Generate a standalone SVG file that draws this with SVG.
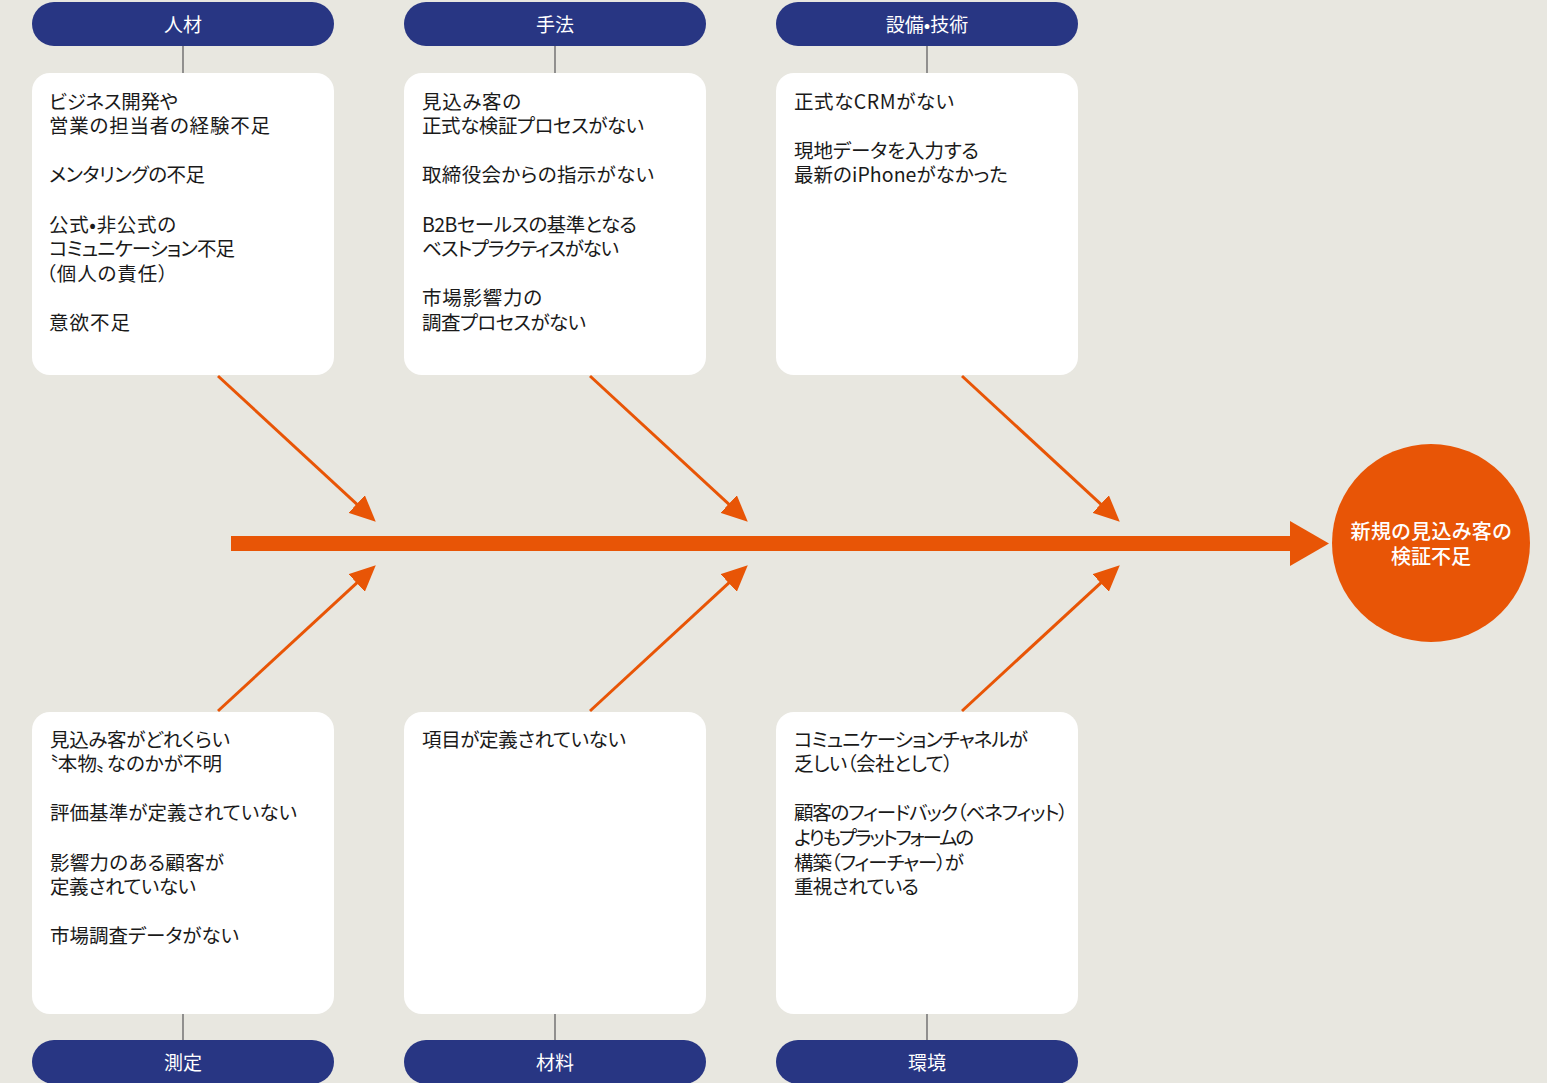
<svg xmlns="http://www.w3.org/2000/svg" width="1547" height="1083" viewBox="0 0 1547 1083">
<style>
.bg{fill:#E8E7E0}
.hdr{fill:#283683}
.hdrt{fill:#FFFFFF;font-family:"Noto Sans CJK JP","Noto Sans",sans-serif;font-size:19px;text-anchor:middle}
.box{fill:#FFFFFF}
.bt{fill:#1A1A1A;font-family:"Noto Sans CJK JP","Noto Sans",sans-serif;font-size:19.5px;font-feature-settings:"palt"}
.tie{stroke:#7A7A7A;stroke-width:1.6}
.br{stroke:#E85506;stroke-width:3;fill:none}
.or{fill:#E85506}
.ct{fill:#FFFFFF;font-family:"Noto Sans CJK JP","Noto Sans",sans-serif;font-size:20px;font-weight:500;text-anchor:middle;font-feature-settings:"palt"}
</style>
<defs>
<marker id="ah" markerUnits="userSpaceOnUse" markerWidth="26" markerHeight="24" refX="15" refY="12" orient="auto" viewBox="0 0 26 24">
<path d="M0,0 L26,12 L0,24 z" fill="#E85506"/>
</marker>
</defs>
<rect class="bg" x="0" y="0" width="1547" height="1083"/>

<g id="connectors">
<line class="tie" x1="183" y1="46" x2="183" y2="73"/>
<line class="tie" x1="555" y1="46" x2="555" y2="73"/>
<line class="tie" x1="927" y1="46" x2="927" y2="73"/>
<line class="tie" x1="183" y1="1013" x2="183" y2="1040"/>
<line class="tie" x1="555" y1="1013" x2="555" y2="1040"/>
<line class="tie" x1="927" y1="1013" x2="927" y2="1040"/>
<line class="br" x1="218" y1="376" x2="367.7" y2="514.2" marker-end="url(#ah)"/>
<line class="br" x1="590" y1="376" x2="739.7" y2="514.2" marker-end="url(#ah)"/>
<line class="br" x1="962" y1="376" x2="1111.7" y2="514.2" marker-end="url(#ah)"/>
<line class="br" x1="218" y1="711" x2="367.7" y2="572.8" marker-end="url(#ah)"/>
<line class="br" x1="590" y1="711" x2="739.7" y2="572.8" marker-end="url(#ah)"/>
<line class="br" x1="962" y1="711" x2="1111.7" y2="572.8" marker-end="url(#ah)"/>
<rect class="or" x="231" y="536" width="1061" height="15"/>
<polygon class="or" points="1290,521 1329,543.5 1290,566"/>
</g>

<g id="head-jinzai">
<rect class="hdr" x="32" y="2" width="302" height="44" rx="22"/>
<text class="hdrt" x="183" y="32">人材</text>
</g>
<g id="head-shuho">
<rect class="hdr" x="404" y="2" width="302" height="44" rx="22"/>
<text class="hdrt" x="555" y="32">手法</text>
</g>
<g id="head-setsubi">
<rect class="hdr" x="776" y="2" width="302" height="44" rx="22"/>
<text class="hdrt" x="927" y="32">設備•技術</text>
</g>
<g id="head-sokutei">
<rect class="hdr" x="32" y="1040" width="302" height="44" rx="22"/>
<text class="hdrt" x="183" y="1070">測定</text>
</g>
<g id="head-zairyo">
<rect class="hdr" x="404" y="1040" width="302" height="44" rx="22"/>
<text class="hdrt" x="555" y="1070">材料</text>
</g>
<g id="head-kankyo">
<rect class="hdr" x="776" y="1040" width="302" height="44" rx="22"/>
<text class="hdrt" x="927" y="1070">環境</text>
</g>

<g id="box-jinzai">
<rect class="box" x="32" y="73" width="302" height="302" rx="18"/>
<text class="bt" x="49" y="108.5" textLength="129" lengthAdjust="spacing">ビジネス開発や</text>
<text class="bt" x="49" y="133.1" textLength="221" lengthAdjust="spacing">営業の担当者の経験不足</text>
<text class="bt" x="49" y="182.3" textLength="156" lengthAdjust="spacing">メンタリングの不足</text>
<text class="bt" x="49" y="231.5" textLength="127" lengthAdjust="spacing">公式•非公式の</text>
<text class="bt" x="49" y="256.1" textLength="186" lengthAdjust="spacing">コミュニケーション不足</text>
<text class="bt" x="46" y="280.7" textLength="122" lengthAdjust="spacing">（個人の責任）</text>
<text class="bt" x="49" y="329.9" textLength="81" lengthAdjust="spacing">意欲不足</text>
</g>
<g id="box-shuho">
<rect class="box" x="404" y="73" width="302" height="302" rx="18"/>
<text class="bt" x="422" y="108.5" textLength="99" lengthAdjust="spacing">見込み客の</text>
<text class="bt" x="422" y="133.1" textLength="222" lengthAdjust="spacing">正式な検証プロセスがない</text>
<text class="bt" x="422" y="182.3" textLength="232" lengthAdjust="spacing">取締役会からの指示がない</text>
<text class="bt" x="422" y="231.5" textLength="215" lengthAdjust="spacing">B2Bセールスの基準となる</text>
<text class="bt" x="422" y="256.1" textLength="197" lengthAdjust="spacing">ベストプラクティスがない</text>
<text class="bt" x="422" y="305.3" textLength="120" lengthAdjust="spacing">市場影響力の</text>
<text class="bt" x="422" y="329.9" textLength="164" lengthAdjust="spacing">調査プロセスがない</text>
</g>
<g id="box-setsubi">
<rect class="box" x="776" y="73" width="302" height="302" rx="18"/>
<text class="bt" x="794" y="108.5" textLength="160" lengthAdjust="spacing">正式なCRMがない</text>
<text class="bt" x="794" y="157.7" textLength="185" lengthAdjust="spacing">現地データを入力する</text>
<text class="bt" x="794" y="182.3" textLength="214" lengthAdjust="spacing">最新のiPhoneがなかった</text>
</g>
<g id="box-sokutei">
<rect class="box" x="32" y="712" width="302" height="302" rx="18"/>
<text class="bt" x="50" y="746.5" textLength="180" lengthAdjust="spacing">見込み客がどれくらい</text>
<text class="bt" x="48" y="771.1" textLength="174" lengthAdjust="spacing">〝本物〟なのかが不明</text>
<text class="bt" x="50" y="820.3" textLength="247" lengthAdjust="spacing">評価基準が定義されていない</text>
<text class="bt" x="50" y="869.5" textLength="174" lengthAdjust="spacing">影響力のある顧客が</text>
<text class="bt" x="50" y="894.1" textLength="146" lengthAdjust="spacing">定義されていない</text>
<text class="bt" x="50" y="943.3" textLength="189" lengthAdjust="spacing">市場調査データがない</text>
</g>
<g id="box-zairyo">
<rect class="box" x="404" y="712" width="302" height="302" rx="18"/>
<text class="bt" x="422" y="746.5" textLength="204" lengthAdjust="spacing">項目が定義されていない</text>
</g>
<g id="box-kankyo">
<rect class="box" x="776" y="712" width="302" height="302" rx="18"/>
<text class="bt" x="794" y="746.5" textLength="234" lengthAdjust="spacing">コミュニケーションチャネルが</text>
<text class="bt" x="794" y="771.1" textLength="159" lengthAdjust="spacing">乏しい（会社として）</text>
<text class="bt" x="794" y="820.3" textLength="274" lengthAdjust="spacing">顧客のフィードバック（ベネフィット）</text>
<text class="bt" x="794" y="844.9" textLength="180" lengthAdjust="spacing">よりもプラットフォームの</text>
<text class="bt" x="794" y="869.5" textLength="170" lengthAdjust="spacing">構築（フィーチャー）が</text>
<text class="bt" x="794" y="894.1" textLength="125" lengthAdjust="spacing">重視されている</text>
</g>

<g id="effect">
<circle class="or" cx="1431" cy="543" r="99"/>
<text class="ct" x="1431" y="538.5" textLength="161" lengthAdjust="spacing">新規の見込み客の</text>
<text class="ct" x="1431" y="563.5" textLength="80" lengthAdjust="spacing">検証不足</text>
</g>
</svg>
